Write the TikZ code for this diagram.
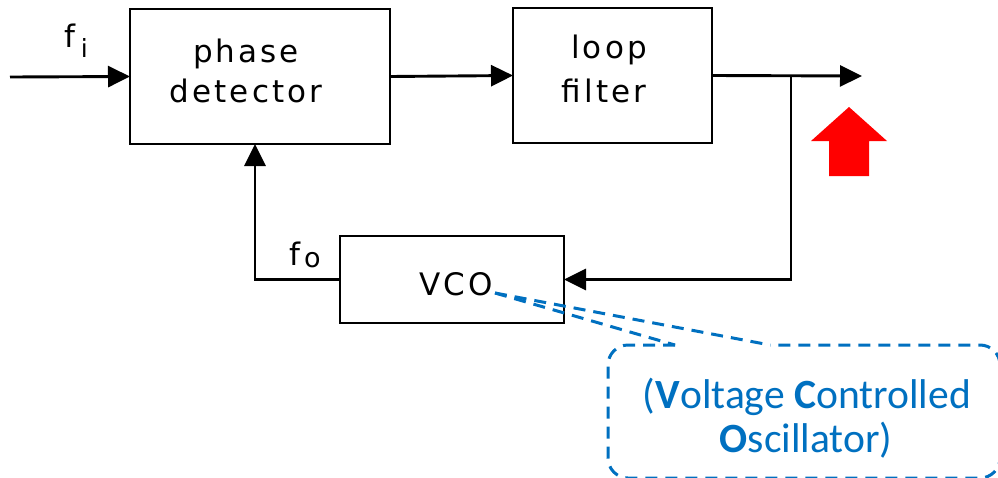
\documentclass[tikz,border=0pt]{standalone}
\usepackage{fontspec}
\setmainfont{DejaVu Sans}
\newfontfamily\lblfont[LetterSpace=10]{DejaVu Sans}
\newfontfamily\callfont{Carlito}
\usetikzlibrary{arrows.meta}
\definecolor{callblue}{RGB}{0,112,192}
\definecolor{arrred}{RGB}{255,0,0}
\begin{document}
\begin{tikzpicture}[x=1pt,y=-1pt,
  blk/.style={draw,line width=2.9pt,inner sep=0pt,outer sep=0pt},
  wire/.style={line width=2.9pt,-{Triangle[length=22pt,width=21pt]}},
  lbl/.style={font=\lblfont\fontsize{31}{40}\selectfont,inner sep=0pt,anchor=base},
  ctext/.style={font=\callfont\fontsize{41.6}{44}\selectfont,text=callblue,inner sep=0pt,anchor=base},
  callout/.style={draw=callblue,line width=3pt,dash pattern=on 12pt off 8pt}
]
\useasboundingbox (0,0) rectangle (998,477);
\clip (0,0) rectangle (998,477);

% blocks
\node[blk,minimum width=260pt,minimum height=135pt] (pd) at (260,76.5) {};
\node[blk,minimum width=199pt,minimum height=135pt] (lf) at (612.5,75.5) {};
\node[blk,minimum width=224pt,minimum height=87pt] (vco) at (452,279.5) {};

% block texts
\node[lbl] (pdt1) at (246,62) {phase};
\node[lbl] (pdt2) at (246,102) {detector};
\node[lbl] (lft1) at (609,58) {loop};
\node[lbl] (lft2) at (604,102) {filter};
\node[lbl] (vcot) at (456,295) {VCO};

% signal labels
\node[lbl] (fi) at (76,47) {f\hspace{6pt}\raisebox{-10pt}{\fontsize{25}{25}\selectfont i}};
\node[lbl] (fo) at (305,265) {f\hspace{4pt}\raisebox{-2pt}{\fontsize{27}{27}\selectfont o}};

% connectors
\coordinate (in) at (10,77);
\coordinate (out) at (862,76);
\coordinate (br) at (791,76);
\coordinate (fbx) at (255,0);
\draw[wire] (in) -- (pd.west);
\draw[wire] (pd.east) -- (lf.west);
\draw[wire] (lf.east) -- (out);
\draw[wire] (br) |- (vco.east);
\draw[wire] (vco.west) -| (pd.south -| fbx);

% red arrow
\fill[arrred] (849,107) -- (887,141) -- (869,141) -- (869,176) -- (829,176) -- (829,141) -- (811,141) -- cycle;

% callout
\coordinate (vcop) at (495,293);
\coordinate (cl) at (675,345);
\coordinate (cr) at (770,345);
\draw[callout,rounded corners=20pt] (cl) -- (608,345) -- (608,478) -- (1000,478) -- (1000,345) -- (cr);
\draw[callout] (vcop) -- (cl);
\draw[callout] (vcop) -- (cr);
\node[ctext] (c1) at (807,408) {(\textbf{V}oltage \textbf{C}ontrolled};
\node[ctext] (c2) at (806,452) {\textbf{O}scillator)};
\end{tikzpicture}
\end{document}
